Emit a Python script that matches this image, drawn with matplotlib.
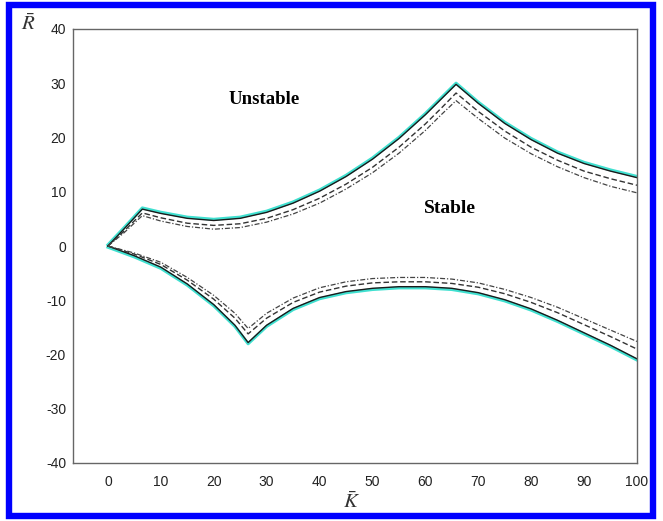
import numpy as np
import matplotlib
matplotlib.use("Agg")
import matplotlib.pyplot as plt
from matplotlib.patches import Rectangle
from matplotlib.transforms import offset_copy

plt.rcParams['mathtext.fontset'] = 'stix'
plt.rcParams['axes.unicode_minus'] = False

# === data ===
x_upper = [0, 3, 6.5, 10, 15, 20, 25, 30, 35, 40, 45, 50, 55, 60, 63, 65.8,
           70, 75, 80, 85, 90, 95, 100]
upper_solid = [0, 3.1, 6.8, 6.0, 5.1, 4.7, 5.1, 6.2, 7.9, 10.1, 12.8, 16.0, 19.8,
               24.2, 27.1, 29.8, 26.3, 22.6, 19.6, 17.1, 15.2, 13.8, 12.6]
upper_dash = [0, 2.7, 6.1, 5.2, 4.2, 3.8, 4.1, 5.1, 6.7, 8.8, 11.4, 14.5, 18.2,
              22.5, 25.4, 28.2, 24.8, 21.2, 18.2, 15.8, 13.8, 12.4, 11.2]
upper_dashdot = [0, 2.4, 5.6, 4.6, 3.6, 3.1, 3.4, 4.4, 5.9, 7.9, 10.5, 13.5, 17.1,
                 21.3, 24.2, 26.8, 23.5, 19.9, 17.0, 14.6, 12.6, 11.0, 9.8]

x_lower = [0, 5, 10, 15, 20, 24, 26.5, 30, 35, 40, 45, 50, 55, 60, 65, 70,
           75, 80, 85, 90, 95, 100]
lower_solid = [0, -1.8, -3.9, -7.0, -10.8, -14.6, -17.8, -14.6, -11.5, -9.5, -8.4,
               -7.8, -7.5, -7.5, -7.8, -8.6, -9.9, -11.6, -13.7, -16.0, -18.3, -20.8]
lower_dash = [0, -1.5, -3.4, -6.3, -9.8, -13.3, -16.2, -13.3, -10.4, -8.5, -7.4,
              -6.8, -6.6, -6.6, -6.9, -7.6, -8.8, -10.4, -12.3, -14.5, -16.7, -19.0]
lower_dashdot = [0, -1.3, -3.0, -5.8, -9.1, -12.4, -15.2, -12.4, -9.6, -7.7, -6.6,
                 -6.0, -5.8, -5.8, -6.1, -6.8, -8.0, -9.5, -11.3, -13.4, -15.5, -17.6]

x_ticks = [0, 10, 20, 30, 40, 50, 60, 70, 80, 90, 100]
y_ticks = [-40, -30, -20, -10, 0, 10, 20, 30, 40]

# === figure ===
fig = plt.figure(figsize=(6.63, 5.21), dpi=100)
fig.patch.set_facecolor('white')
ax = fig.add_axes([73 / 663, 58 / 521, 564 / 663, 434 / 521])

up_shift = offset_copy(ax.transData, fig=fig, x=0, y=1.2, units='dots')
dn_shift = offset_copy(ax.transData, fig=fig, x=0, y=-1.2, units='dots')

ax.plot(x_upper, upper_solid, color='#40e0d0', lw=2.2, transform=up_shift)
ax.plot(x_lower, lower_solid, color='#40e0d0', lw=2.2, transform=dn_shift)
ax.plot(x_upper, upper_solid, color='#1a1a1a', lw=1.0)
ax.plot(x_lower, lower_solid, color='#1a1a1a', lw=1.0)
ax.plot(x_upper, upper_dash, color='#333333', lw=1.0, dashes=(4, 2))
ax.plot(x_lower, lower_dash, color='#333333', lw=1.0, dashes=(4, 2))
ax.plot(x_upper, upper_dashdot, color='#444444', lw=0.9, dashes=(4, 1.5, 1, 1.5))
ax.plot(x_lower, lower_dashdot, color='#444444', lw=0.9, dashes=(4, 1.5, 1, 1.5))

ax.set_xlim(-6.6, 100)
ax.set_ylim(-40, 40)
ax.set_xticks(x_ticks)
ax.set_yticks(y_ticks)
ax.tick_params(length=0, labelsize=10, labelcolor='#222222')
ax.tick_params(axis='x', pad=9)
ax.tick_params(axis='y', pad=5)
for lab in ax.get_xticklabels() + ax.get_yticklabels():
    lab.set_family('Liberation Sans')
for sp in ax.spines.values():
    sp.set_color('#666666')
    sp.set_linewidth(1.0)

ax.text(29.5, 27, 'Unstable', family='Liberation Serif', weight='bold',
        fontsize=13.5, ha='center', va='center')
ax.text(64.7, 7, 'Stable', family='Liberation Serif', weight='bold',
        fontsize=14, ha='center', va='center')

fig.text(28 / 663, 1 - 24 / 521, r'$\bar{R}$', fontsize=15, ha='center', va='center',
         color='#333333')
fig.text(352 / 663, 1 - 502 / 521, r'$\bar{K}$', fontsize=15, ha='center', va='center',
         color='#333333')

# blue frame round the whole picture
fig.patches.append(Rectangle((9 / 663, 5 / 521), 644 / 663, 511 / 521,
                             transform=fig.transFigure, fill=False,
                             edgecolor='#0000ff', lw=4.6))

fig.savefig('out.png', dpi=100)
